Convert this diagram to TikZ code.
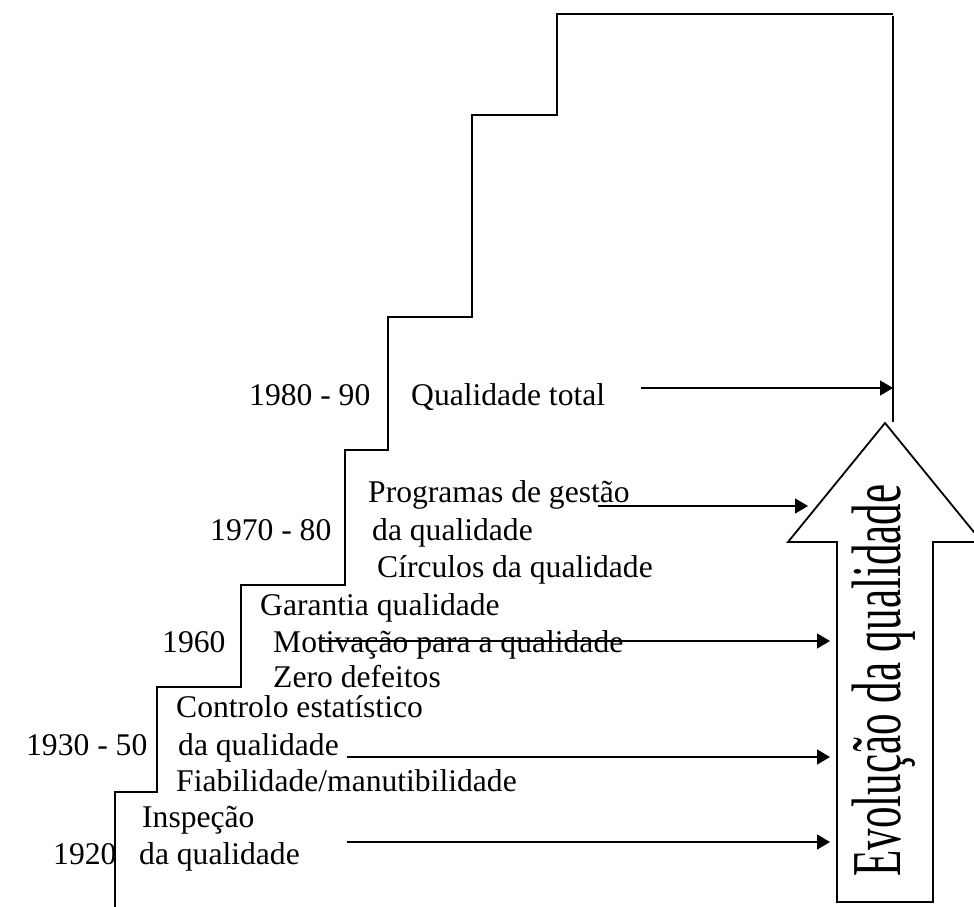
\documentclass[tikz,border=0pt]{standalone}
\usepackage{fontspec}
\setmainfont{Liberation Serif}
\usetikzlibrary{arrows.meta}
\begin{document}
\begin{tikzpicture}[x=1pt,y=-1pt,
  lbl/.style={anchor=base west, inner sep=0pt, font=\fontsize{31.6}{38}\selectfont},
  stair/.style={line width=2pt, line join=miter},
  conn/.style={line width=1.4pt, -{Triangle[length=13pt,width=15pt]}},
  bigarrow/.style={draw, line width=1.8pt, fill=white, line join=miter}]
\useasboundingbox (0,0) rectangle (974,907);
\clip (0,0) rectangle (974,907);
% staircase
\draw[stair] (115,907) -- (115,792) -- (157,792) -- (157,687) -- (241,687)
  -- (241,585) -- (345,585) -- (345,450) -- (388,450) -- (388,317)
  -- (472,317) -- (472,115) -- (557,115) -- (557,14) -- (893,14);
\draw[stair] (893,16) -- (893,422);
% big arrow
\draw[bigarrow] (885,423) -- (982,542) -- (933,542) -- (933,902) -- (837,902)
  -- (837,542) -- (788,542) -- cycle;
\node[rotate=90, anchor=base west, inner sep=0pt, font=\fontsize{70}{80}\selectfont]
  (evo) at (900,877) {\scalebox{0.615}[1]{Evolução da qualidade}};
% labels
\node[lbl] (y80) at (249,405) {1980 - 90};
\node[lbl] (qt) at (411,405) {Qualidade total};
\node[lbl] (pg) at (368,502) {Programas de gestão};
\node[lbl] (y70) at (210,540) {1970 - 80};
\node[lbl] (dq70) at (372,540) {da qualidade};
\node[lbl] (cq) at (377,577) {Círculos da qualidade};
\node[lbl] (gq) at (260,615) {Garantia qualidade};
\node[lbl] (y60) at (162,652) {1960};
\node[lbl] (mq) at (273,652) {Motivação para a qualidade};
\node[lbl] (zd) at (273,687) {Zero defeitos};
\node[lbl] (ce) at (176,717) {Controlo estatístico};
\node[lbl] (y30) at (26,755) {1930 - 50};
\node[lbl] (dq30) at (178,755) {da qualidade};
\node[lbl] (fm) at (176,791) {Fiabilidade/manutibilidade};
\node[lbl] (ins) at (142,827) {Inspeção};
\node[lbl] (y20) at (53,864) {1920};
\node[lbl] (dq20) at (139,864) {da qualidade};
% connector ends
\coordinate (a1s) at (641,388); \coordinate (a1e) at (893,388);
\coordinate (a2s) at (598,506); \coordinate (a2e) at (808,506);
\coordinate (a3s) at (322,641); \coordinate (a3e) at (830,641);
\coordinate (a4s) at (347,757); \coordinate (a4e) at (830,757);
\coordinate (a5s) at (347,842); \coordinate (a5e) at (830,842);
\draw[conn] (a1s) -- (a1e);
\draw[conn] (a2s) -- (a2e);
\draw[conn] (a3s) -- (a3e);
\draw[conn] (a4s) -- (a4e);
\draw[conn] (a5s) -- (a5e);
\end{tikzpicture}
\end{document}
